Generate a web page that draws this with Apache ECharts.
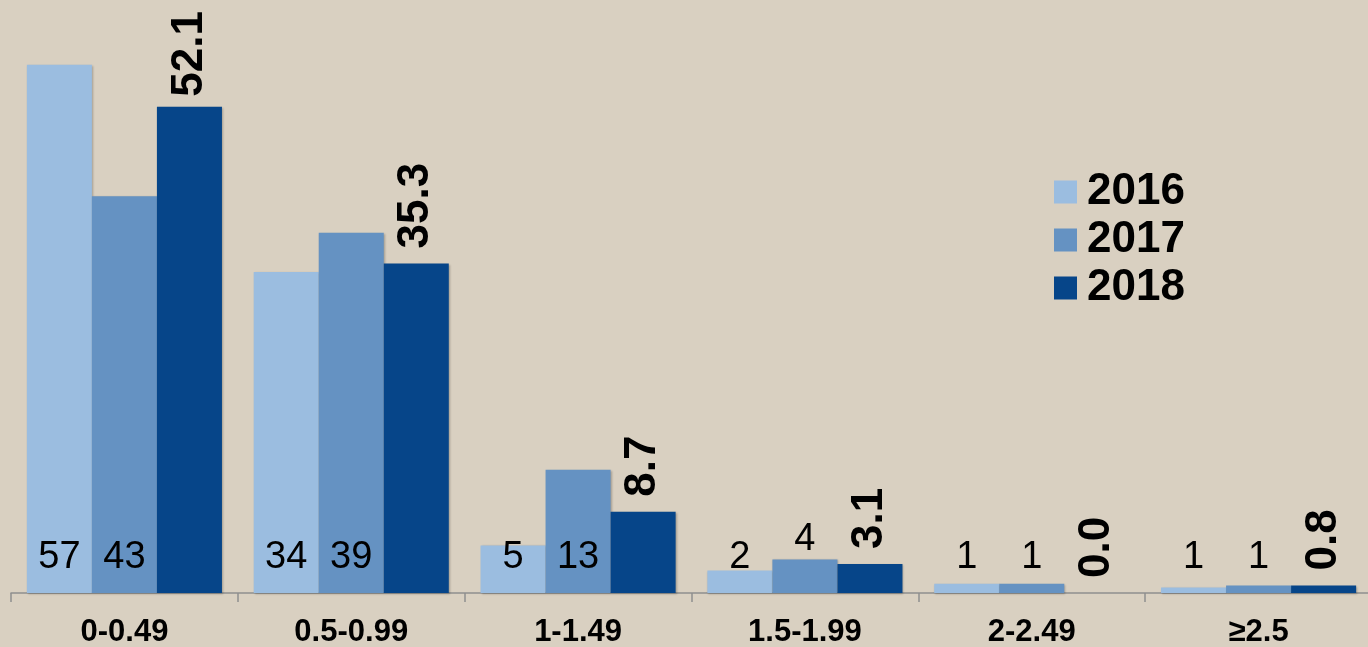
<!DOCTYPE html>
<html>
<head>
<meta charset="utf-8">
<script src="https://cdn.jsdelivr.net/npm/echarts@6/dist/echarts.min.js"></script>
<style>
  html, body { margin: 0; padding: 0; background: #d9d0c1; overflow: hidden; }
  #chart { width: 1376px; height: 647px; }
</style>
</head>
<body>
<div id="chart"></div>
<script>
// Distribution by range, three years
const categories = ['0-0.49', '0.5-0.99', '1-1.49', '1.5-1.99', '2-2.49', '≥2.5'];
const years = ['2016', '2017', '2018'];
const values2016 = [56.6, 34.4, 5.1, 2.4, 1.0, 0.6];
const values2017 = [42.5, 38.6, 13.2, 3.6, 1.0, 0.8];
const values2018 = [52.1, 35.3, 8.7, 3.1, 0.0, 0.8];

const colors = ['#9bbde0', '#6592c2', '#064589'];
const FONT = '"Liberation Sans", Arial, sans-serif';

const barShadow = {
  shadowBlur: 2,
  shadowColor: 'rgba(0,0,0,0.25)',
  shadowOffsetX: 1,
  shadowOffsetY: 1
};

// whole-number labels sitting near the base of the bar
function baseLabel() {
  return {
    show: true,
    position: 'insideBottom',
    distance: 16,
    fontFamily: FONT,
    fontSize: 38,
    color: '#000',
    formatter: p => String(Math.round(p.value))
  };
}

// one-decimal labels standing vertically above the bar
function topLabel() {
  return {
    show: true,
    position: 'top',
    rotate: 90,
    align: 'left',
    verticalAlign: 'middle',
    distance: 15,
    fontFamily: FONT,
    fontSize: 44,
    fontWeight: 'bold',
    color: '#000',
    formatter: p => Number(p.value).toFixed(1)
  };
}

const data2016 = values2016.map(v => ({ value: v }));
const data2017 = values2017.map((v, i) =>
  i === 3 ? { value: v, label: { position: 'top', distance: 1 } } : { value: v });
const data2018 = values2018.map((v, i) =>
  i === 0 ? { value: v, label: { distance: 10 } } : { value: v });

const chart = echarts.init(document.getElementById('chart'), null, { renderer: 'canvas' });

chart.setOption({
  backgroundColor: '#d9d0c1',
  animation: false,
  color: colors,
  grid: {
    left: 11, top: 33, width: 1361, height: 560,
    containLabel: false,
    outerBoundsMode: 'none'
  },
  legend: {
    data: years,
    orient: 'vertical',
    left: 1054,
    top: 170,
    padding: 0,
    itemWidth: 23,
    itemHeight: 23,
    itemGap: 4,
    icon: 'rect',
    textStyle: {
      fontFamily: FONT,
      fontSize: 44,
      fontWeight: 'bold',
      color: '#000',
      padding: [0, 0, 0, 5]
    }
  },
  xAxis: {
    type: 'category',
    data: categories,
    axisLine: { show: true, lineStyle: { color: '#8f8f8f', width: 1.5 } },
    axisTick: { show: true, length: 9, lineStyle: { color: '#8f8f8f', width: 1.5 } },
    axisLabel: {
      fontFamily: FONT,
      fontSize: 31,
      fontWeight: 'bold',
      color: '#000',
      margin: 24
    }
  },
  yAxis: {
    type: 'value',
    min: 0,
    max: 60,
    show: false,
    splitLine: { show: false }
  },
  series: [
    {
      name: years[0], type: 'bar', data: data2016,
      barGap: '0%', barCategoryGap: '14%',
      itemStyle: Object.assign({ color: colors[0] }, barShadow),
      label: baseLabel()
    },
    {
      name: years[1], type: 'bar', data: data2017,
      barGap: '0%', barCategoryGap: '14%',
      itemStyle: Object.assign({ color: colors[1] }, barShadow),
      label: baseLabel()
    },
    {
      name: years[2], type: 'bar', data: data2018,
      barGap: '0%', barCategoryGap: '14%',
      itemStyle: Object.assign({ color: colors[2] }, barShadow),
      label: topLabel()
    }
  ]
});
</script>
</body>
</html>
